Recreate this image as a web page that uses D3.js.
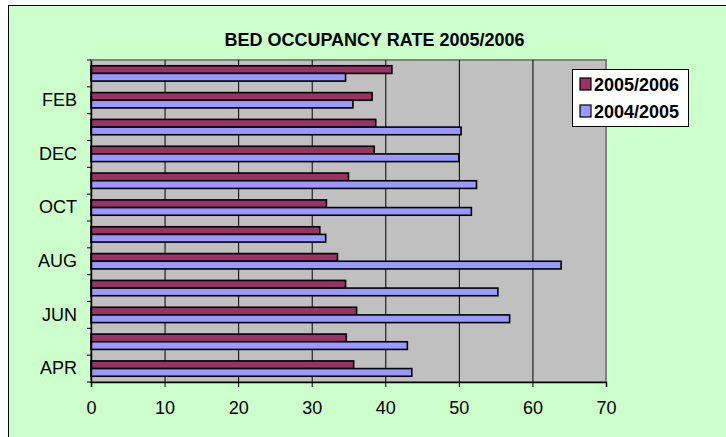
<!DOCTYPE html>
<html><head><meta charset="utf-8">
<script src="https://cdn.jsdelivr.net/npm/d3@7"></script>
<style>html,body{margin:0;padding:0;background:#fff;}svg{display:block;}text{font-family:Arial,"Liberation Sans",sans-serif;}</style>
</head><body>
<svg id="c" width="726" height="437"></svg>
<script>
const months = ["MAR","FEB","JAN","DEC","NOV","OCT","SEP","AUG","JUL","JUN","MAY","APR"];
const labelled = ["FEB","DEC","OCT","AUG","JUN","APR"];
const seriesNames = ["2005/2006","2004/2005"];
const s2005_2006 = [40.9,38.2,38.7,38.5,35.0,32.0,31.1,33.5,34.6,36.1,34.7,35.7];
const s2004_2005 = [34.6,35.6,50.3,50.0,52.4,51.7,31.9,63.9,55.3,56.9,43.0,43.6];
const xTicks = [0,10,20,30,40,50,60,70];
const colors = ["#993366","#9999FF"];
const title = "BED OCCUPANCY RATE 2005/2006";

const svg = d3.select("#c");
svg.append("rect").attr("x",8.5).attr("y",5.5).attr("width",730).attr("height",440)
  .attr("fill","#CCFFCC").attr("stroke","#000").attr("stroke-width",1);

const L=91, R=606, T=60, B=382;
const x = d3.scaleLinear().domain([0,70]).range([L,R]);
const y = d3.scaleBand().domain(months).range([T,B]).padding(0);
const ys = d3.scaleBand().domain(seriesNames).range([0,y.bandwidth()]).paddingInner(0).paddingOuter(0.75);

svg.append("text").attr("x",374.5).attr("y",46).attr("text-anchor","middle")
  .attr("font-size",18).attr("font-weight","bold").text(title);

// plot area
svg.append("rect").attr("x",L).attr("y",T).attr("width",R-L).attr("height",B-T)
  .attr("fill","#C0C0C0").attr("stroke","#808080").attr("stroke-width",2);

// gridlines
svg.append("g").selectAll("line").data(xTicks.filter(t=>t>0&&t<70)).join("line")
  .attr("x1",d=>x(d)+0.5).attr("x2",d=>x(d)+0.5).attr("y1",T).attr("y2",B)
  .attr("stroke","#000").attr("stroke-width",1);

// bars
const data = months.map((m,i)=>({m, vals:[s2005_2006[i], s2004_2005[i]]}));
const g = svg.append("g");
data.forEach(d=>{
  d.vals.forEach((v,j)=>{
    g.append("rect").attr("x",x(0)).attr("y",y(d.m)+ys(seriesNames[j]))
      .attr("width",x(v)-x(0)).attr("height",ys.bandwidth())
      .attr("fill",colors[j]).attr("stroke","#000").attr("stroke-width",1.6);
  });
});

// x axis
const xa = svg.append("g").attr("transform",`translate(0,${B})`)
  .call(d3.axisBottom(x).tickValues(xTicks).tickSize(5).tickPadding(14).tickFormat(d3.format("d")));
xa.select(".domain").attr("stroke","#000").attr("stroke-width",1.5);
xa.selectAll(".tick line").attr("stroke","#000");
xa.selectAll("text").attr("font-size",18).attr("font-family","Arial, 'Liberation Sans', sans-serif").attr("fill","#000");

// y axis
const ya = svg.append("g").attr("transform",`translate(${L},0)`)
  .call(d3.axisLeft(y).tickSize(0).tickPadding(14).tickFormat(d=>labelled.includes(d)?d:""));
ya.select(".domain").attr("stroke","#000").attr("stroke-width",1.5);
ya.selectAll("text").attr("font-size",18).attr("font-family","Arial, 'Liberation Sans', sans-serif").attr("fill","#000");
const bounds = months.map(m=>y(m)).concat([y.range()[1]]);
ya.selectAll("line.bt").data(bounds).join("line").attr("class","bt")
  .attr("x1",-4).attr("x2",0).attr("y1",d=>d).attr("y2",d=>d).attr("stroke","#000").attr("stroke-width",1);

// legend
const lg = svg.append("g");
lg.append("rect").attr("x",572.5).attr("y",69.5).attr("width",116).attr("height",57)
  .attr("fill","#fff").attr("stroke","#000").attr("stroke-width",1);
seriesNames.forEach((s,i)=>{
  const yy = 78 + i*27;
  lg.append("rect").attr("x",580).attr("y",yy).attr("width",11).attr("height",12)
    .attr("fill",colors[i]).attr("stroke","#000").attr("stroke-width",1.2);
  lg.append("text").attr("x",594).attr("y",yy+13).attr("font-size",18).attr("font-weight","bold").text(s);
});
</script>
</body></html>
